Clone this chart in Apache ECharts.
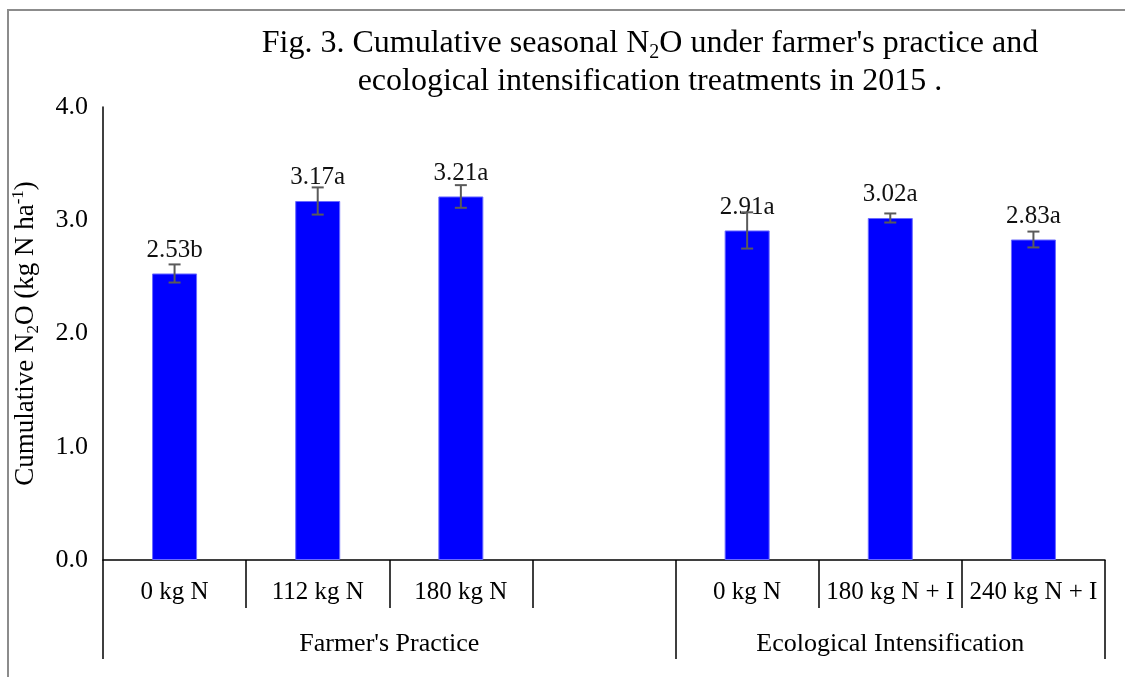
<!DOCTYPE html>
<html>
<head>
<meta charset="utf-8">
<script src="https://cdn.jsdelivr.net/npm/echarts@6/dist/echarts.min.js"></script>
<style>
  html, body { margin: 0; padding: 0; background: #fff; }
  #chart { width: 1125px; height: 677px; }
</style>
</head>
<body>
<div id="chart"></div>
<script>
// Treatments (the fourth slot is an empty spacer between the two groups)
const treatments = ['0 kg N', '112 kg N', '180 kg N', '', '0 kg N', '180 kg N + I', '240 kg N + I'];
// Cumulative seasonal N2O (kg N ha-1); null for the spacer slot
const n2oMeans = [2.53, 3.17, 3.21, null, 2.91, 3.02, 2.83];
// Standard error of each mean
const n2oErrors = [0.08, 0.12, 0.10, null, 0.16, 0.04, 0.07];
// Mean separation letters
const sigLetters = ['b', 'a', 'a', '', 'a', 'a', 'a'];
// Management groups and their boundaries on the category scale
const groupNames = ["Farmer's Practice", 'Ecological Intensification'];
const groupBounds = [0, 4, 7];
const groupCenters = [2, 5.5];
// Y axis ticks
const yTicks = [0, 1, 2, 3, 4];

const FONT = 'Liberation Serif';
const chart = echarts.init(document.getElementById('chart'));

const errorData = n2oMeans.map((m, i) => m == null ? null : [i, m - n2oErrors[i], m + n2oErrors[i]]).filter(d => d);

chart.setOption({
  animation: false,
  backgroundColor: '#fff',
  textStyle: { fontFamily: FONT },
  title: {
    text: '{t|Fig. 3. Cumulative seasonal N}{s|2}{t|O under farmer\'s practice and}\n{t|ecological intensification treatments in 2015 .}',
    left: 645,
    top: 20,
    textAlign: 'center',
    textStyle: {
      fontWeight: 'normal',
      rich: {
        t: { fontFamily: FONT, fontSize: 32, fontWeight: 'normal', color: '#000', lineHeight: 38 },
        s: { fontFamily: FONT, fontSize: 20, fontWeight: 'normal', color: '#000', verticalAlign: 'bottom', lineHeight: 32 }
      }
    }
  },
  graphic: [{
    type: 'rect',
    shape: { x: 8, y: 10, width: 1300, height: 1000 },
    style: { fill: 'none', stroke: '#8c8c8c', lineWidth: 2 },
    silent: true
  }],
  grid: { left: 103, right: 20, top: 107, bottom: 117, containLabel: false },
  xAxis: [{
    type: 'category',
    data: treatments,
    position: 'bottom',
    axisLine: { show: true, lineStyle: { color: '#000', width: 1.5 } },
    axisTick: { show: true, interval: 0, length: 48, lineStyle: { color: '#000', width: 1.5 } },
    axisLabel: { interval: 0, margin: 20, fontSize: 25, color: '#000', fontFamily: FONT },
    splitLine: { show: false }
  }, {
    type: 'value',
    min: 0,
    max: 7,
    position: 'bottom',
    axisLine: { show: false },
    axisTick: { show: true, customValues: groupBounds, length: 99, lineStyle: { color: '#000', width: 1.5 } },
    axisLabel: {
      customValues: groupCenters,
      margin: 71,
      fontSize: 26,
      color: '#000',
      fontFamily: FONT,
      formatter: v => groupNames[groupCenters.indexOf(v)]
    },
    splitLine: { show: false }
  }],
  yAxis: {
    type: 'value',
    min: yTicks[0],
    max: yTicks[yTicks.length - 1],
    interval: 1,
    axisLine: { show: true, lineStyle: { color: '#000', width: 1.5 } },
    axisTick: { show: false },
    splitLine: { show: false },
    axisLabel: { margin: 15, fontSize: 26, color: '#000', fontFamily: FONT, formatter: v => v.toFixed(1) },
    name: '{t|Cumulative N}{s|2}{t|O (kg N ha}{p|-1}{t|)}',
    nameLocation: 'middle',
    nameGap: 61,
    nameRotate: 90,
    nameTextStyle: {
      rich: {
        t: { fontFamily: FONT, fontSize: 27, color: '#000', lineHeight: 32 },
        s: { fontFamily: FONT, fontSize: 17, color: '#000', verticalAlign: 'bottom', lineHeight: 26 },
        p: { fontFamily: FONT, fontSize: 17, color: '#000', verticalAlign: 'top', lineHeight: 26 }
      }
    }
  },
  series: [{
    type: 'bar',
    data: n2oMeans,
    barWidth: 45,
    itemStyle: { color: '#0000ff', borderColor: '#6b6bff', borderWidth: 1 },
    label: {
      show: true,
      position: 'top',
      distance: 11,
      fontSize: 25,
      color: '#111',
      fontFamily: FONT,
      formatter: p => p.value == null ? '' : p.value.toFixed(2) + sigLetters[p.dataIndex]
    },
    z: 2
  }, {
    type: 'custom',
    data: errorData,
    z: 3,
    renderItem: (params, api) => {
      const x = api.value(0);
      const lo = api.coord([x, api.value(1)]);
      const hi = api.coord([x, api.value(2)]);
      const half = 6;
      const style = { stroke: '#5a5a5a', lineWidth: 2 };
      return {
        type: 'group',
        children: [
          { type: 'line', shape: { x1: lo[0], y1: lo[1], x2: hi[0], y2: hi[1] }, style },
          { type: 'line', shape: { x1: lo[0] - half, y1: lo[1], x2: lo[0] + half, y2: lo[1] }, style },
          { type: 'line', shape: { x1: hi[0] - half, y1: hi[1], x2: hi[0] + half, y2: hi[1] }, style }
        ]
      };
    }
  }]
});
</script>
</body>
</html>
